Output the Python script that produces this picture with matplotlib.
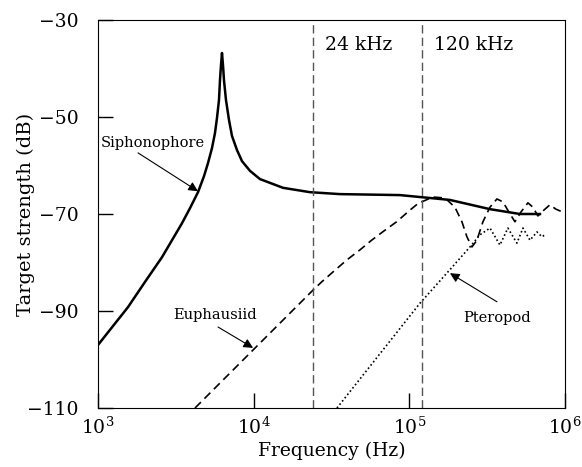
import numpy as np
import matplotlib
matplotlib.use("Agg")
from matplotlib import pyplot as plt

plt.rcParams["font.family"] = "DejaVu Serif"
plt.rcParams["mathtext.fontset"] = "dejavuserif"

# Siphonophore (solid)
siph_f = [1000, 1248, 1558, 2004, 2577, 2988, 3464, 3898, 4389, 4796, 5088, 5398, 5643,
          5812, 5986, 6076, 6166, 6258, 6351, 6445, 6639, 6940, 7255, 7809, 8412, 9468,
          10976, 15425, 22996, 35840, 87000, 116950, 182310, 329450, 513270, 690200]
siph_ts = [-97.0, -93.1, -89.2, -84.0, -78.9, -75.4, -71.9, -68.8, -65.5, -62.2, -59.5, -56.4, -53.3,
           -50.2, -46.5, -42.4, -39.3, -36.8, -39.3, -42.4, -46.5, -50.6, -53.9, -56.8, -59.1, -61.1,
           -62.8, -64.6, -65.5, -65.9, -66.1, -66.5, -67.1, -69.0, -70.0, -70.0]

# Euphausiid (dashed)
euph_f = [4198, 24040, 27340, 32450, 39570, 48170, 57270, 67990, 82860, 100900, 114100,
          141800, 169300, 196300, 217700, 234400, 252500, 271800, 297000, 329450, 365300,
          399200, 436200, 476700, 520900, 577700, 622100, 669600, 731900, 799800, 874100, 998600]
euph_ts = [-110.0, -85.7, -84.0, -81.9, -79.5, -77.4, -75.4, -73.6, -71.6, -69.2, -67.8,
           -66.5, -66.7, -68.6, -71.6, -74.7, -76.8, -75.4, -71.6, -68.6, -66.9,
           -67.5, -69.6, -71.6, -69.6, -67.7, -68.6, -70.4, -69.2, -68.1, -69.0, -69.8]

# Pteropod (dotted)
pter_f = [34277, 116950, 181970, 251189, 283792, 329610, 381944, 429536, 490908,
          537032, 595662, 660693, 711214, 743019]
pter_ts = [-110.0, -88.4, -81.5, -76.4, -74.3, -72.9, -76.4, -72.9, -76.0,
           -72.9, -75.4, -73.7, -74.7, -74.3]

marker_f = [24000, 120000]
marker_labels = ["24 kHz", "120 kHz"]

fig = plt.figure(figsize=(5.82, 4.67), dpi=100)
ax = fig.add_axes([0.1684, 0.1263, 0.8024, 0.8309])

ax.plot(siph_f, siph_ts, color="black", lw=1.8)
ax.plot(euph_f, euph_ts, color="black", lw=1.2, linestyle=(0, (5, 3)))
ax.plot(pter_f, pter_ts, color="black", lw=1.2, linestyle=(0, (1, 1.5)))

for f, lab in zip(marker_f, marker_labels):
    ax.axvline(f, color="#555555", lw=1.0, linestyle=(0, (6, 3)))
    ax.text(f * 1.2, -35.2, lab, fontsize=13.5, va="center", ha="left")

arrow = dict(arrowstyle="-|>", color="black", lw=0.8, mutation_scale=14,
             shrinkA=0, shrinkB=0)
ax.text(1045, -55.4, "Siphonophore", fontsize=10.5, va="center", ha="left")
ax.annotate("", xy=(4385, -65.3), xytext=(1807, -57.4), arrowprops=arrow)
ax.text(5640, -90.8, "Euphausiid", fontsize=10.5, va="center", ha="center")
ax.annotate("", xy=(9910, -97.6), xytext=(5902, -93.3), arrowprops=arrow)
ax.text(365600, -91.4, "Pteropod", fontsize=10.5, va="center", ha="center")
ax.annotate("", xy=(182400, -82.2), xytext=(365600, -88.1), arrowprops=arrow)

ax.set_xscale("log")
ax.set_xlim(1e3, 1e6)
ax.set_ylim(-110, -30)
ax.set_yticks([-110, -90, -70, -50, -30])
ax.set_yticklabels(["\u2212110", "\u221290", "\u221270", "\u221250", "\u221230"])
ax.xaxis.set_minor_locator(matplotlib.ticker.NullLocator())
ax.tick_params(direction="in", length=11, width=1, labelsize=13.5)
ax.tick_params(axis="y", pad=14)
ax.tick_params(axis="x", pad=6)
ax.set_xlabel("Frequency (Hz)", fontsize=13.5, labelpad=3)
ax.set_ylabel("Target strength (dB)", fontsize=14, labelpad=-6)

plt.savefig("out.png", dpi=100)
